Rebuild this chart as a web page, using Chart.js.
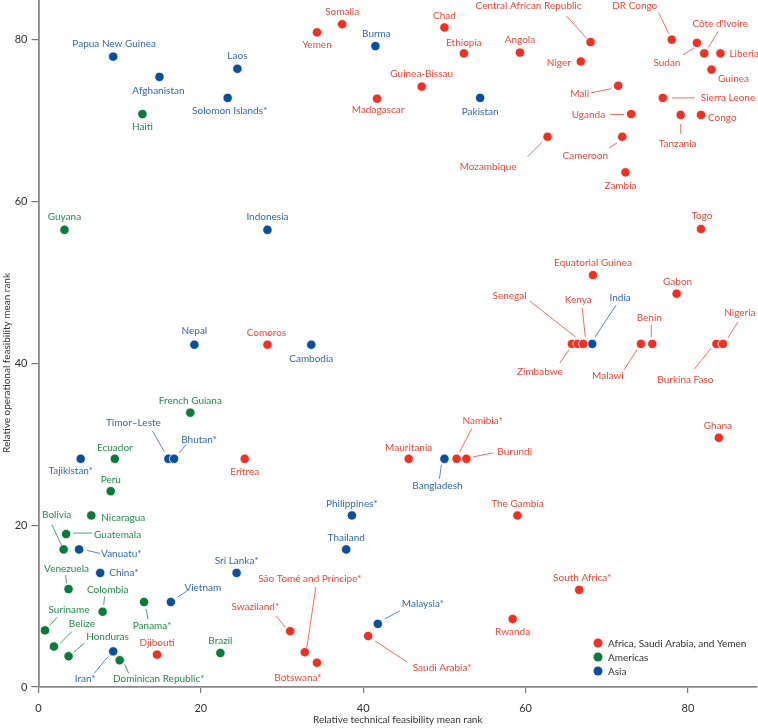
<!DOCTYPE html>
<html>
<head>
<meta charset="utf-8">
<script src="https://cdn.jsdelivr.net/npm/chart.js@4.4.1/dist/chart.umd.min.js"></script>
<style>
  body { margin: 0; background: #fff; }
  canvas { display: block; }
</style>
</head>
<body>
<canvas id="grafico" width="758" height="728"></canvas>
<script>
// Datos por región
const regiones = ['Africa, Saudi Arabia, and Yemen', 'Americas', 'Asia'];

const africaNombres = ['Somalia', 'Yemen', 'Chad', 'Ethiopia', 'Angola', 'Central African Republic', 'DR Congo',
    'Sudan', "Côte d'Ivoire", 'Liberia', 'Guinea', 'Niger', 'Guinea-Bissau', 'Madagascar', 'Mali', 'Sierra Leone',
    'Uganda', 'Tanzania', 'Congo', 'Mozambique', 'Cameroon', 'Zambia', 'Togo', 'Equatorial Guinea', 'Gabon',
    'Zimbabwe', 'Senegal', 'Kenya', 'Malawi', 'Benin', 'Burkina Faso', 'Nigeria', 'Comoros', 'Ghana', 'Eritrea',
    'Mauritania', 'Namibia*', 'Burundi', 'The Gambia', 'South Africa*', 'Rwanda', 'Swaziland*',
    'São Tomé and Príncipe*', 'Botswana*', 'Saudi Arabia*', 'Djibouti'];
const africaTecnica = [37.4, 34.3, 50.0, 52.4, 59.3, 68.0, 78.0, 81.1, 82.0, 84.0, 82.9, 66.8, 47.2, 41.7, 71.4, 76.9,
    73.0, 79.1, 81.6, 62.7, 71.9, 72.3, 81.6, 68.3, 78.6, 65.7, 66.4, 67.1, 74.2, 75.6, 83.5, 84.3, 28.2, 83.8, 25.4,
    45.6, 51.5, 52.7, 59.0, 66.6, 58.4, 31.0, 32.8, 34.3, 40.6, 14.6];
const africaOperativa = [81.9, 80.9, 81.5, 78.3, 78.4, 79.7, 80.0, 79.6, 78.3, 78.3, 76.3, 77.3, 74.2, 72.7, 74.3, 72.8,
    70.8, 70.7, 70.7, 68.0, 68.0, 63.6, 56.6, 50.9, 48.6, 42.4, 42.4, 42.4, 42.4, 42.4, 42.4, 42.4, 42.3, 30.8, 28.2,
    28.2, 28.2, 28.2, 21.2, 12.0, 8.4, 6.9, 4.3, 3.0, 6.3, 4.0];

const americasNombres = ['Haiti', 'Guyana', 'French Guiana', 'Ecuador', 'Peru', 'Nicaragua', 'Guatemala', 'Bolivia',
    'Venezuela', 'Colombia', 'Panama*', 'Suriname', 'Belize', 'Honduras', 'Dominican Republic*', 'Brazil'];
const americasTecnica = [12.8, 3.2, 18.7, 9.4, 8.9, 6.5, 3.4, 3.1, 3.7, 7.9, 13.0, 0.8, 1.9, 3.7, 10.0, 22.4];
const americasOperativa = [70.8, 56.5, 33.9, 28.2, 24.2, 21.2, 18.9, 17.0, 12.1, 9.3, 10.5, 7.0, 5.0, 3.8, 3.3, 4.2];

const asiaNombres = ['Papua New Guinea', 'Afghanistan', 'Laos', 'Solomon Islands*', 'Burma', 'Pakistan', 'Indonesia',
    'India', 'Nepal', 'Cambodia', 'Tajikistan*', 'Timor–Leste', 'Bhutan*', 'Bangladesh', 'Philippines*', 'Thailand',
    'Vanuatu*', 'China*', 'Sri Lanka*', 'Vietnam', 'Malaysia*', 'Iran*'];
const asiaTecnica = [9.2, 14.9, 24.5, 23.3, 41.5, 54.4, 28.2, 68.2, 19.2, 33.6, 5.2, 16.0, 16.7, 50.0, 38.6, 37.9,
    5.0, 7.6, 24.4, 16.3, 41.8, 9.2];
const asiaOperativa = [77.9, 75.4, 76.4, 72.8, 79.2, 72.8, 56.5, 42.4, 42.3, 42.3, 28.2, 28.2, 28.2, 28.2, 21.2, 17.0,
    17.0, 14.1, 14.1, 10.5, 7.8, 4.4];

const ticksX = [0, 20, 40, 60, 80];
const ticksY = [0, 20, 40, 60, 80];

// Colores
const COLORES_PUNTO = ['#ee3124', '#0b7a3c', '#0b4f9c'];
const COLORES_TEXTO = ['#f0473b', '#268a50', '#3569b0'];

// Posición de etiquetas: [dx, dy, alineación, x1, y1, x2, y2 (línea guía)]
const ETIQUETAS = {
    'Somalia': [0, -12, 'c'], 'Yemen': [0, 12, 'c'], 'Chad': [0, -12, 'c'], 'Ethiopia': [0, -11, 'c'],
    'Angola': [0, -13, 'c'],
    'Central African Republic': [-62, -36, 'c', -24, -26, -4, -4],
    'DR Congo': [-37, -34, 'c', -13, -27, -3, -6],
    'Sudan': [-30, 20, 'c', -14, 12, -3, 5],
    "Côte d'Ivoire": [16, -30, 'c', 14, -22, 4, -6],
    'Liberia': [9, 0, 'l'], 'Guinea': [22, 9, 'c'], 'Niger': [-10, 1, 'r'],
    'Mali': [-29, 8, 'r', -27, 7, -7, 3],
    'Sierra Leone': [38, 0, 'l', 9, 0, 32, 0],
    'Uganda': [-26, 1, 'r', -21, 0.5, -7, 0.5],
    'Tanzania': [-3, 29, 'c', 0, 9, 0, 19],
    'Congo': [7, 3, 'l'],
    'Mozambique': [-31, 30, 'r', -20, 20, -5, 5],
    'Cameroon': [-37, 19, 'c', -13, 11, -5, 6],
    'Zambia': [-5, 13, 'c'], 'Togo': [1, -13, 'c'], 'Guinea-Bissau': [0, -13, 'c'], 'Madagascar': [1, 11, 'c'],
    'Equatorial Guinea': [0, -12, 'c'], 'Gabon': [1, -12, 'c'],
    'Senegal': [-51, -48, 'r', -48, -43, -2, -7],
    'Kenya': [-5, -44, 'c', -1, -36, 2, -7],
    'Zimbabwe': [-32, 28, 'c', -12, 19, -3, 6],
    'Benin': [-3, -26, 'c', -1, -19, -1, -7],
    'Malawi': [-33, 32, 'c', -17, 26, -4, 6],
    'Nigeria': [17, -31, 'c', 15, -22, 5, -6],
    'Burkina Faso': [-31, 36, 'c', -22, 25, -5, 4],
    'Ghana': [-1, -12, 'c'], 'Comoros': [-1, -12, 'c'], 'Eritrea': [0, 13, 'c'], 'Mauritania': [0, -11, 'c'],
    'Namibia*': [26, -38, 'c', 15, -30, 3, -7],
    'Burundi': [31, -7, 'l', 7, -2, 27, -6],
    'Djibouti': [0, -12, 'c'],
    'São Tomé and Príncipe*': [5, -73, 'c', 11, -65, 2, -4],
    'Swaziland*': [-11, -24, 'r', -14, -15, -5, -4],
    'Botswana*': [-19, 15, 'c'],
    'Saudi Arabia*': [74, 32, 'c', 7, 5, 39, 26],
    'The Gambia': [0, -12, 'c'], 'South Africa*': [3, -12, 'c'], 'Rwanda': [0, 13, 'c'],

    'Papua New Guinea': [1, -13, 'c'], 'Afghanistan': [-1, 14, 'c'], 'Laos': [0, -13, 'c'],
    'Solomon Islands*': [2, 13, 'c'], 'Burma': [1, -12, 'c'], 'Pakistan': [0, 14, 'c'], 'Indonesia': [0, -13, 'c'],
    'India': [28, -46, 'c', 24, -39, 3, -7],
    'Nepal': [0, -14, 'c'], 'Cambodia': [0, 14, 'c'],
    'Timor–Leste': [-35, -36, 'c', -16, -28, -4, -7],
    'Bhutan*': [25, -19, 'c', 12, -14, 5, -6],
    'Tajikistan*': [-10, 12, 'c'],
    'Bangladesh': [-7, 27, 'c', -3, 6, -5, 20],
    'Philippines*': [0, -12, 'c'], 'Thailand': [0, -12, 'c'],
    'Malaysia*': [45, -20, 'c', 22, -13, 7, -5],
    'Vanuatu*': [22, 4, 'l', 8, 1, 21, 4],
    'China*': [9, 0, 'l'],
    'Vietnam': [32, -14, 'c', 7, -5, 16, -11],
    'Sri Lanka*': [0, -12, 'c'],
    'Iran*': [-28, 27, 'c', -19, 22, -5, 5],

    'Haiti': [0, 13, 'c'], 'Guyana': [0, -13, 'c'], 'French Guiana': [0, -12, 'c'], 'Ecuador': [0, -11, 'c'],
    'Peru': [0, -11, 'c'], 'Nicaragua': [10, 2, 'l'],
    'Guatemala': [28, 1, 'l', 7, -1, 26, -1],
    'Bolivia': [-7, -35, 'c', -12, -25, -2, -4],
    'Venezuela': [-2, -20, 'c', -3, -14, -2, -6],
    'Colombia': [5, -22, 'c', 2, -15, 1, -7],
    'Panama*': [8, 24, 'c', 2, 7, 4, 17],
    'Suriname': [24, -21, 'c', 12, -13, 5, -5],
    'Belize': [28, -23, 'c', 18, -15, 6, -3],
    'Honduras': [39, -19, 'c', 16, -13, 5, -4],
    'Dominican Republic*': [39, 18, 'c', 5, 4, 9, 13],
    'Brazil': [0, -12, 'c']
};

const FUENTE = 'Lato, "Open Sans", sans-serif';

function crearPuntos(xs, ys) {
    return xs.map((x, i) => ({ x: x, y: ys[i] }));
}

const nombresPorRegion = [africaNombres, americasNombres, asiaNombres];

// Sin relleno extra alrededor del área del gráfico
function sinRelleno(s) {
    s.paddingTop = 0;
    s.paddingBottom = 0;
    s.paddingLeft = 0;
    s.paddingRight = 0;
}

// Plugin para etiquetas, título del eje Y y leyenda
const etiquetasPlugin = {
    id: 'etiquetasPaises',
    afterDatasetsDraw(chart) {
        const ctx = chart.ctx;
        ctx.save();
        ctx.font = '10px ' + FUENTE;
        ctx.textBaseline = 'middle';
        chart.data.datasets.forEach((ds, d) => {
            const meta = chart.getDatasetMeta(d);
            const nombres = nombresPorRegion[d];
            meta.data.forEach((pt, i) => {
                const nombre = nombres[i];
                const e = ETIQUETAS[nombre] || [0, -12, 'c'];
                ctx.fillStyle = COLORES_TEXTO[d];
                ctx.strokeStyle = COLORES_TEXTO[d];
                ctx.textAlign = e[2] === 'l' ? 'left' : (e[2] === 'r' ? 'right' : 'center');
                ctx.fillText(nombre, pt.x + e[0], pt.y + e[1]);
                if (e.length > 3) {
                    ctx.lineWidth = 0.8;
                    ctx.beginPath();
                    ctx.moveTo(pt.x + e[3], pt.y + e[4]);
                    ctx.lineTo(pt.x + e[5], pt.y + e[6]);
                    ctx.stroke();
                }
            });
        });

        // Título del eje Y
        ctx.save();
        ctx.translate(7, 363);
        ctx.rotate(-Math.PI / 2);
        ctx.textAlign = 'center';
        ctx.fillStyle = '#333';
        ctx.font = '10px ' + FUENTE;
        ctx.fillText('Relative operational feasibility mean rank', 0, 0);
        ctx.restore();

        // Leyenda dentro del área del gráfico
        const area = chart.chartArea;
        const lx = area.right - 159;
        const ly = area.bottom - 44;
        ctx.textAlign = 'left';
        ctx.font = '10px ' + FUENTE;
        regiones.forEach((r, k) => {
            ctx.fillStyle = COLORES_PUNTO[k];
            ctx.beginPath();
            ctx.arc(lx, ly + k * 14, 4.5, 0, Math.PI * 2);
            ctx.fill();
            ctx.fillStyle = '#333';
            ctx.fillText(r, lx + 10, ly + k * 14 + 0.5);
        });
        ctx.restore();
    }
};

const ctx = document.getElementById('grafico').getContext('2d');
new Chart(ctx, {
    type: 'scatter',
    data: {
        datasets: [
            { label: regiones[0], data: crearPuntos(africaTecnica, africaOperativa), backgroundColor: COLORES_PUNTO[0] },
            { label: regiones[1], data: crearPuntos(americasTecnica, americasOperativa), backgroundColor: COLORES_PUNTO[1] },
            { label: regiones[2], data: crearPuntos(asiaTecnica, asiaOperativa), backgroundColor: COLORES_PUNTO[2] }
        ]
    },
    options: {
        responsive: false,
        animation: false,
        layout: { autoPadding: false, padding: { top: 0, right: 1, left: 0, bottom: 0 } },
        elements: {
            point: { radius: 4.7, borderColor: '#fff', borderWidth: 0.8, hoverRadius: 4.7 }
        },
        plugins: {
            legend: { display: false },
            tooltip: { enabled: false }
        },
        scales: {
            x: {
                type: 'linear',
                min: 0,
                max: 88.5,
                afterFit: (s) => { s.height = 41; sinRelleno(s); },
                afterBuildTicks: (s) => { s.ticks = ticksX.map(v => ({ value: v })); },
                ticks: { stepSize: 20, padding: 9, color: '#333', font: { family: FUENTE, size: 11 } },
                grid: { drawOnChartArea: false, drawTicks: true, tickLength: 6, color: '#777', lineWidth: 1.2 },
                border: { display: true, color: '#888', width: 1.8 },
                title: {
                    display: true,
                    text: 'Relative technical feasibility mean rank',
                    color: '#333',
                    font: { family: FUENTE, size: 10 },
                    padding: { top: 0, bottom: 2 }
                }
            },
            y: {
                type: 'linear',
                min: 0,
                max: 84.9,
                afterFit: (s) => { s.width = 38.5; sinRelleno(s); },
                afterBuildTicks: (s) => { s.ticks = ticksY.map(v => ({ value: v })); },
                ticks: { stepSize: 20, padding: 4, color: '#333', font: { family: FUENTE, size: 11 } },
                grid: { drawOnChartArea: false, drawTicks: true, tickLength: 7, color: '#777', lineWidth: 1.2 },
                border: { display: true, color: '#888', width: 1.8 },
                title: { display: false }
            }
        }
    },
    plugins: [etiquetasPlugin]
});
</script>
</body>
</html>
